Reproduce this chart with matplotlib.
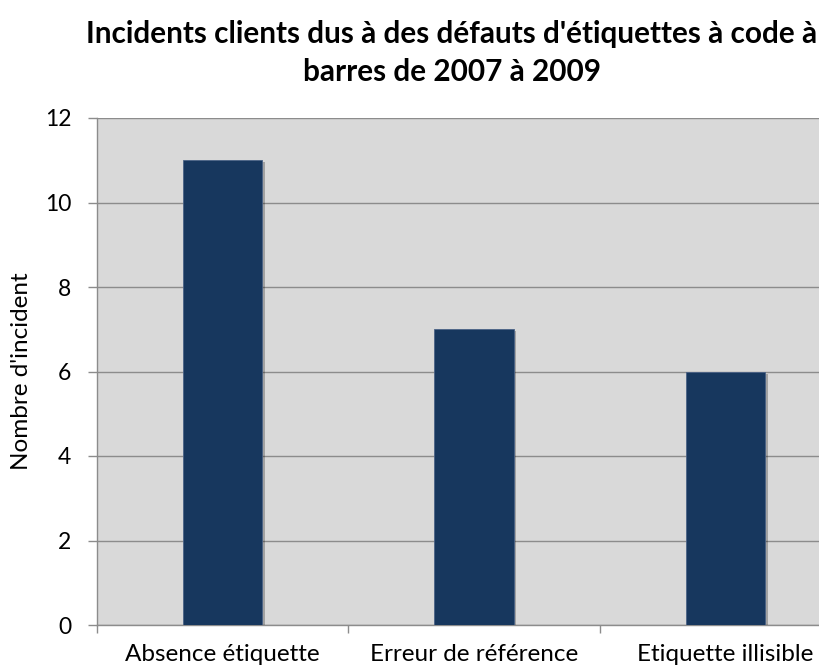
import matplotlib
matplotlib.use("Agg")
import matplotlib.pyplot as plt
import matplotlib.patheffects as pe
import numpy as np

categories = ["Absence étiquette", "Erreur de référence", "Etiquette illisible"]
incidents = [11, 7, 6]
y_ticks = [0, 2, 4, 6, 8, 10, 12]

plt.rcParams["font.family"] = ["Lato", "DejaVu Sans"]

W, H = 819, 669
figure = plt.figure(figsize=(W / 100, H / 100), dpi=100)

# plot area runs past the right edge of the picture, as in the reference
left, right, top, bottom = 97, 851, 118, 625
ax = figure.add_axes([left / W, 1 - bottom / H, (right - left) / W, (bottom - top) / H])
ax.set_facecolor("#d9d9d9")

x = np.arange(len(categories))
bars = ax.bar(x, incidents, width=0.315, color="#17375e", edgecolor="#4a6286",
              linewidth=0.6, zorder=3)
for bar in bars:
    bar.set_path_effects([pe.SimplePatchShadow(offset=(2, -1.5), shadow_rgbFace="#000000",
                                               alpha=0.25), pe.Normal()])

ax.set_xlim(-0.5, len(categories) - 0.5)
ax.set_ylim(0, 12)
ax.set_yticks(y_ticks)
ax.yaxis.grid(True, color="#8c8c8c", linewidth=1.0, zorder=1)
ax.set_axisbelow(True)

ax.set_xticks(x)
ax.set_xticklabels(categories, fontsize=17.5)
ax.tick_params(axis="x", length=0, pad=14)
ax.set_xticks(np.arange(len(categories) + 1) - 0.5, minor=True)
ax.tick_params(axis="x", which="minor", length=6, color="#8c8c8c", width=1.0)
ax.tick_params(axis="y", length=6.5, color="#8c8c8c", width=1.0, labelsize=16.5, pad=12)

for side in ["top", "right"]:
    ax.spines[side].set_visible(False)
for side in ["left", "bottom"]:
    ax.spines[side].set_color("#8c8c8c")
    ax.spines[side].set_linewidth(1.0)

ax.set_ylabel("Nombre d'incident", fontsize=17.5, labelpad=9)

figure.text(452 / W, 1 - 53 / H,
            "Incidents clients dus à des défauts d'étiquettes à code à\nbarres de 2007 à 2009",
            ha="center", va="center", fontsize=21.4, fontweight="bold", linespacing=1.42)

figure.savefig("out.png", dpi=100, facecolor="white")
